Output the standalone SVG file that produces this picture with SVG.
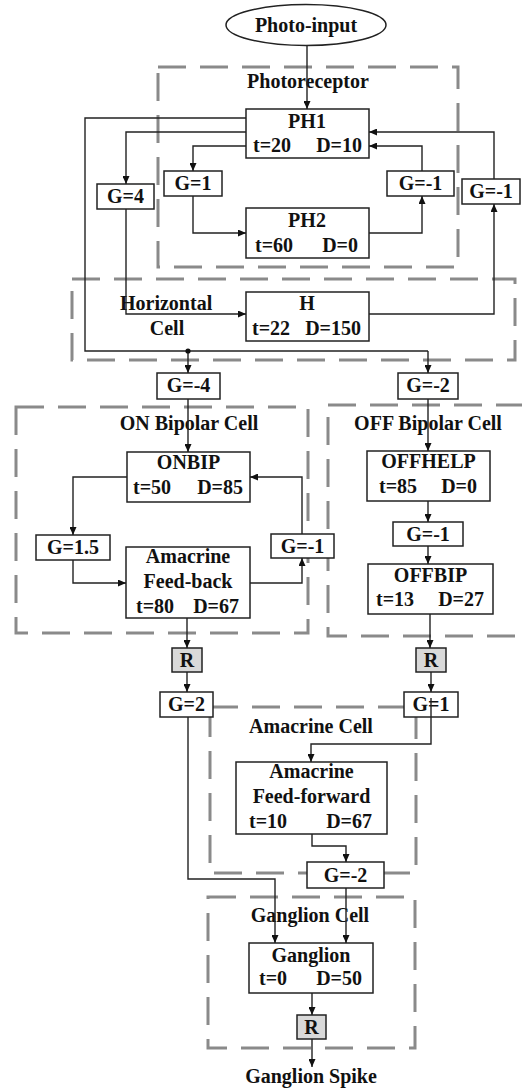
<svg xmlns="http://www.w3.org/2000/svg" width="522" height="1091" viewBox="0 0 522 1091">
<style>
text{font-family:"Liberation Serif","Times New Roman",serif;font-weight:bold;font-size:20px;fill:#111}
.c{text-anchor:middle}
.e{text-anchor:end}
.zone{fill:none;stroke:#8a8a8a;stroke-width:3;stroke-dasharray:28 14}
.box{fill:#fff;stroke:#222;stroke-width:1.5}
.r{fill:#d9d9d9;stroke:#222;stroke-width:1.5}
.w{fill:none;stroke:#222;stroke-width:1.4}
.a{fill:none;stroke:#222;stroke-width:1.4;marker-end:url(#ah)}
</style>
<defs>
<marker id="ah" markerUnits="userSpaceOnUse" markerWidth="8" markerHeight="7" refX="8" refY="3.5" orient="auto">
<path d="M0,0 L8,3.5 L0,7 z" fill="#111"/>
</marker>
</defs>
<rect width="522" height="1091" fill="#fff"/>

<g id="zones">
<rect class="zone" x="158" y="67" width="300" height="200"/>
<text class="c" x="308" y="88">Photoreceptor</text>
<rect class="zone" x="72" y="279" width="443" height="81"/>
<text x="120" y="310">Horizontal</text>
<text class="c" x="167" y="335">Cell</text>
<rect class="zone" x="16" y="407" width="292" height="226"/>
<text class="c" x="189" y="430">ON Bipolar Cell</text>
<rect class="zone" x="328" y="405" width="230" height="231"/>
<text class="c" x="428" y="430">OFF Bipolar Cell</text>
<rect class="zone" x="210" y="707" width="206" height="166"/>
<text class="c" x="311" y="733">Amacrine Cell</text>
<rect class="zone" x="208" y="897" width="207" height="151"/>
<text class="c" x="310" y="922">Ganglion Cell</text>
</g>

<g id="photo-input">
<ellipse cx="306" cy="25" rx="80" ry="20.5" class="box"/>
<text class="c" x="306" y="32">Photo-input</text>
</g>
<g id="PH1">
<rect class="box" x="246" y="109" width="123" height="49"/>
<text class="c" x="307" y="128">PH1</text>
<text x="253" y="152">t=20</text><text class="e" x="362" y="152">D=10</text>
</g>
<g id="G4"><rect class="box" x="97" y="184" width="57" height="25"/><text class="c" x="125.5" y="203">G=4</text></g>
<g id="G1a"><rect class="box" x="164" y="171" width="58" height="25"/><text class="c" x="193" y="190">G=1</text></g>
<g id="Gm1a"><rect class="box" x="387" y="171" width="67" height="25"/><text class="c" x="420.5" y="190">G=-1</text></g>
<g id="Gm1b"><rect class="box" x="462" y="179" width="58" height="25"/><text class="c" x="491" y="198">G=-1</text></g>
<g id="PH2">
<rect class="box" x="246" y="208" width="123" height="50"/>
<text class="c" x="307" y="227">PH2</text>
<text x="255" y="252">t=60</text><text class="e" x="358" y="252">D=0</text>
</g>
<g id="H">
<rect class="box" x="246" y="292" width="123" height="49"/>
<text class="c" x="307" y="310">H</text>
<text x="252" y="335">t=22</text><text class="e" x="361" y="335">D=150</text>
</g>
<g id="Gm4"><rect class="box" x="157" y="373" width="63" height="26"/><text class="c" x="188.5" y="392">G=-4</text></g>
<g id="Gm2a"><rect class="box" x="398" y="373" width="60" height="26"/><text class="c" x="428" y="392">G=-2</text></g>
<g id="ONBIP">
<rect class="box" x="127" y="452" width="123" height="50"/>
<text class="c" x="188.5" y="469">ONBIP</text>
<text x="133" y="494">t=50</text><text class="e" x="243" y="494">D=85</text>
</g>
<g id="G15"><rect class="box" x="36" y="535" width="74" height="25"/><text class="c" x="73" y="554">G=1.5</text></g>
<g id="AmFB">
<rect class="box" x="126" y="547" width="124" height="71"/>
<text class="c" x="188" y="563">Amacrine</text>
<text class="c" x="188" y="588">Feed-back</text>
<text x="136" y="613">t=80</text><text class="e" x="239" y="613">D=67</text>
</g>
<g id="Gm1c"><rect class="box" x="271" y="534" width="63" height="24"/><text class="c" x="302.5" y="553">G=-1</text></g>
<g id="OFFHELP">
<rect class="box" x="367" y="451" width="123" height="50"/>
<text class="c" x="428.5" y="468">OFFHELP</text>
<text x="379" y="493">t=85</text><text class="e" x="477" y="493">D=0</text>
</g>
<g id="Gm1d"><rect class="box" x="393" y="522" width="70" height="24"/><text class="c" x="428" y="541">G=-1</text></g>
<g id="OFFBIP">
<rect class="box" x="368" y="564" width="125" height="50"/>
<text class="c" x="430.5" y="582">OFFBIP</text>
<text x="376" y="606">t=13</text><text class="e" x="484" y="606">D=27</text>
</g>
<g id="R1"><rect class="r" x="172" y="648" width="30" height="24"/><text class="c" x="187" y="667">R</text></g>
<g id="R2"><rect class="r" x="416" y="648" width="30" height="24"/><text class="c" x="431" y="667">R</text></g>
<g id="G2"><rect class="box" x="160" y="692" width="53" height="25"/><text class="c" x="186.5" y="711">G=2</text></g>
<g id="G1b"><rect class="box" x="404" y="692" width="54" height="25"/><text class="c" x="431" y="711">G=1</text></g>
<g id="AmFF">
<rect class="box" x="236" y="762" width="151" height="72"/>
<text class="c" x="311.5" y="778">Amacrine</text>
<text class="c" x="311.5" y="803">Feed-forward</text>
<text x="249" y="828">t=10</text><text class="e" x="372" y="828">D=67</text>
</g>
<g id="Gm2b"><rect class="box" x="307" y="862" width="77" height="26"/><text class="c" x="345.5" y="882">G=-2</text></g>
<g id="Ganglion">
<rect class="box" x="249" y="943" width="124" height="50"/>
<text class="c" x="311" y="962">Ganglion</text>
<text x="259" y="985">t=0</text><text class="e" x="362" y="985">D=50</text>
</g>
<g id="R3"><rect class="r" x="297" y="1015" width="29" height="24"/><text class="c" x="311.5" y="1034">R</text></g>
<g id="spike"><text class="c" x="311" y="1083">Ganglion Spike</text></g>

<g id="connectors">
<path class="a" d="M307,46 V109"/>
<path class="w" d="M246,118 H85 V351 H428"/>
<path class="a" d="M428,351 V373"/>
<path class="a" d="M188,351 V373"/>
<circle cx="188" cy="351" r="2.6" fill="#111"/>
<path class="a" d="M246,132 H126 V184"/>
<path class="a" d="M246,146 H193 V171"/>
<path class="a" d="M422,171 V146 H369"/>
<path class="a" d="M494,179 V132 H369"/>
<path class="a" d="M193,196 V233 H246"/>
<path class="a" d="M369,233 H422 V196"/>
<path class="a" d="M126,209 V314 H246"/>
<path class="a" d="M369,314 H494 V204"/>
<path class="a" d="M188,399 V452"/>
<path class="a" d="M428,399 V451"/>
<path class="a" d="M127,477 H73 V535"/>
<path class="a" d="M73,560 V583 H126"/>
<path class="a" d="M250,583 H302 V558"/>
<path class="a" d="M302,534 V477 H250"/>
<path class="a" d="M428,501 V522"/>
<path class="a" d="M428,546 V564"/>
<path class="a" d="M187,618 V648"/>
<path class="a" d="M187,672 V692"/>
<path class="a" d="M430,614 V648"/>
<path class="a" d="M431,672 V692"/>
<path class="a" d="M431,698 V744 H311 V762"/>
<path class="a" d="M188,717 V879 H275 V943"/>
<path class="a" d="M312,834 V846 H346 V862"/>
<path class="a" d="M346,888 V943"/>
<path class="a" d="M312,993 V1015"/>
<path class="a" d="M312,1039 V1067"/>
</g>
</svg>
